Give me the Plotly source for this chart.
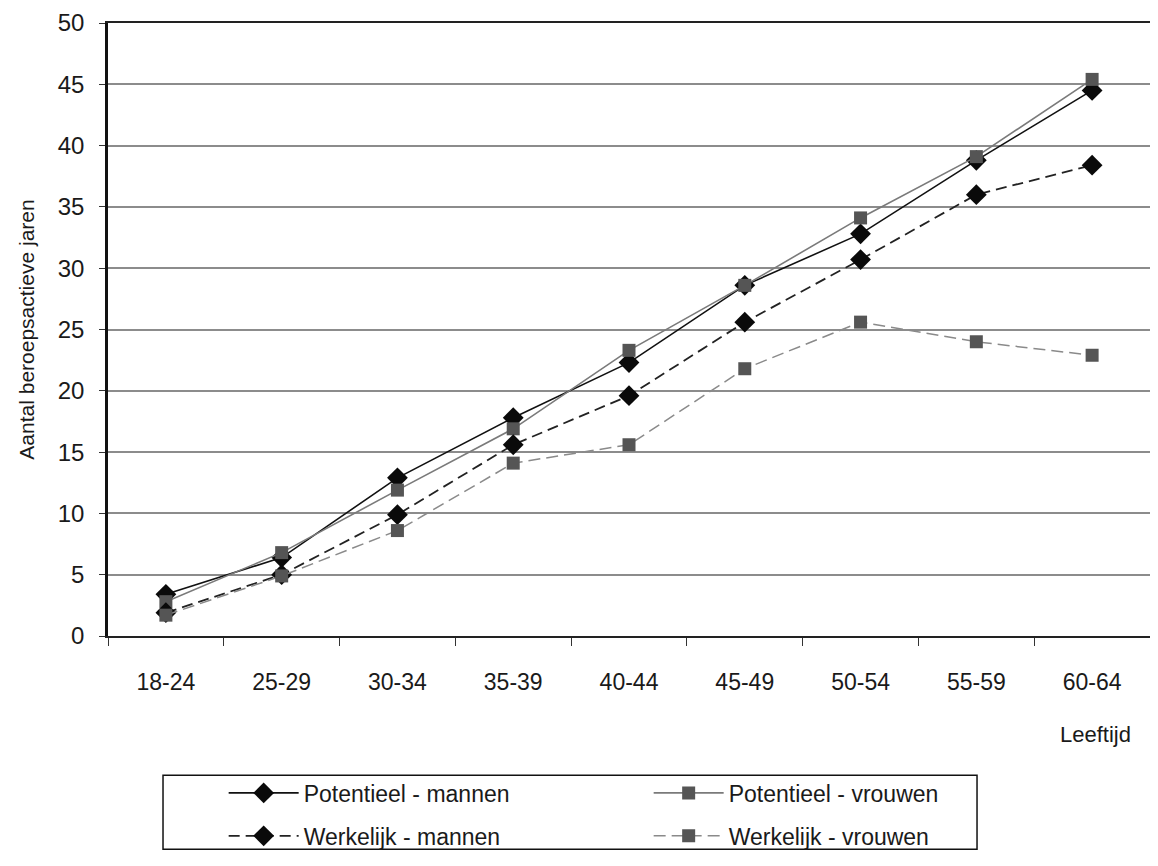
import plotly.graph_objects as go

# Leeftijdsklassen en aantal beroepsactieve jaren
leeftijd = ['18-24', '25-29', '30-34', '35-39', '40-44', '45-49', '50-54', '55-59', '60-64']
potentieel_mannen = [3.4, 6.4, 12.9, 17.8, 22.3, 28.6, 32.8, 38.8, 44.5]
potentieel_vrouwen = [2.8, 6.8, 11.9, 16.9, 23.3, 28.6, 34.1, 39.1, 45.4]
werkelijk_mannen = [1.9, 5.0, 9.9, 15.6, 19.6, 25.6, 30.7, 36.0, 38.4]
werkelijk_vrouwen = [1.7, 4.9, 8.6, 14.1, 15.6, 21.8, 25.6, 24.0, 22.9]

font_fam = "Liberation Sans, Arial, sans-serif"

fig = go.Figure()

fig.add_trace(go.Scatter(
    x=leeftijd, y=potentieel_mannen, mode='lines+markers',
    name='Potentieel - mannen', legend='legend',
    line=dict(color='#111111', width=1.6),
    marker=dict(symbol='diamond', size=16, color='#0a0a0a'),
))
fig.add_trace(go.Scatter(
    x=leeftijd, y=potentieel_vrouwen, mode='lines+markers',
    name='Potentieel - vrouwen', legend='legend',
    line=dict(color='#7a7a7a', width=1.6),
    marker=dict(symbol='square', size=13, color='#555555'),
))
fig.add_trace(go.Scatter(
    x=leeftijd, y=werkelijk_mannen, mode='lines+markers',
    name='Werkelijk - mannen', legend='legend2',
    line=dict(color='#222222', width=1.8, dash='11px,6px'),
    marker=dict(symbol='diamond', size=16, color='#0a0a0a'),
))
fig.add_trace(go.Scatter(
    x=leeftijd, y=werkelijk_vrouwen, mode='lines+markers',
    name='Werkelijk - vrouwen', legend='legend2',
    line=dict(color='#8a8a8a', width=1.5, dash='12px,6px'),
    marker=dict(symbol='square', size=13, color='#555555'),
))

# de pagina heeft 8px marge rond de figuur
legend_style = dict(
    orientation='h', x=0.111, xanchor='left', yanchor='middle',
    borderwidth=0, bgcolor='rgba(0,0,0,0)', entrywidth=340, itemwidth=70,
    font=dict(size=23, family=font_fam, color='#1a1a1a'),
)

fig.update_layout(
    width=1142, height=850,
    margin=dict(l=100, r=0, t=15, b=216),
    paper_bgcolor='white', plot_bgcolor='white',
    font=dict(family=font_fam, color='#1a1a1a'),
    showlegend=True,
    legend=dict(legend_style, y=-0.256),
    legend2=dict(legend_style, y=-0.326),
    xaxis=dict(
        type='category', tickson='boundaries', ticks='outside', ticklen=8,
        tickcolor='#333333', showline=True, linecolor='#222222', linewidth=2,
        mirror=True, showgrid=False, tickfont=dict(size=23),
        ticklabelstandoff=24, automargin=False,
        range=[-0.5, 8.5],
    ),
    yaxis=dict(
        range=[0, 50], dtick=5, ticks='outside', ticklen=6, tickcolor='#333333',
        showline=True, linecolor='#111111', linewidth=2.5,
        showgrid=True, gridcolor='#8c8c8c', gridwidth=1.5,
        tickfont=dict(size=24), ticklabelstandoff=10, automargin=False,
        ticklabeloverflow='allow',
        title=dict(text='Aantal beroepsactieve jaren', font=dict(size=21), standoff=18),
    ),
    shapes=[dict(
        type='rect', xref='paper', yref='paper',
        x0=0.0528, x1=0.834, y0=-0.348, y1=-0.227,
        line=dict(color='#111111', width=1.5), fillcolor='rgba(0,0,0,0)',
    )],
    annotations=[dict(
        text='Leeftijd', xref='paper', yref='paper', x=0.984, y=-0.16,
        xanchor='right', yanchor='middle', showarrow=False,
        font=dict(size=22, family=font_fam, color='#1a1a1a'),
    )],
)

fig.write_html("out.html")
